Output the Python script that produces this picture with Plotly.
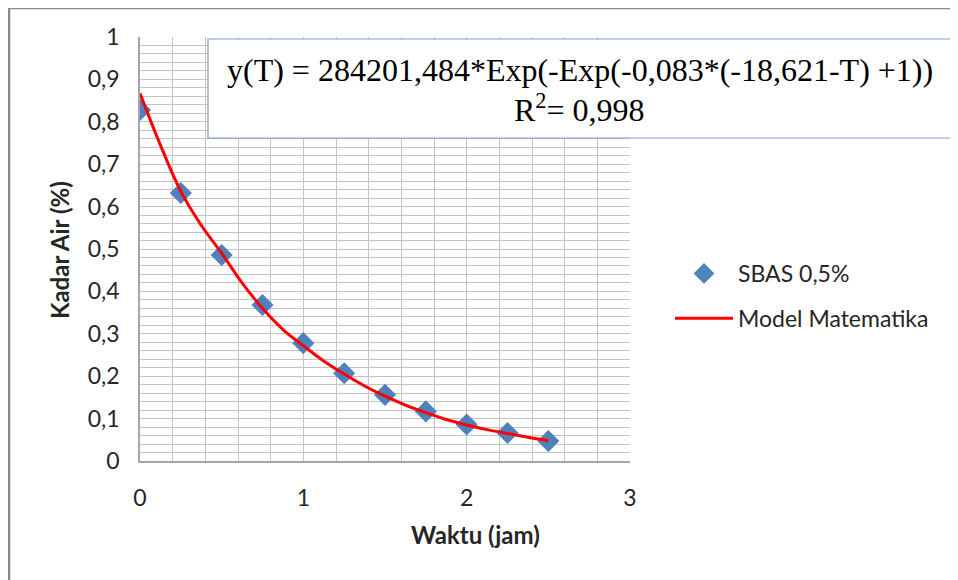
import plotly.graph_objects as go

# ---- data ----
waktu = [0, 0.25, 0.5, 0.75, 1.0, 1.25, 1.5, 1.75, 2.0, 2.25, 2.5]
kadar_air = [0.828, 0.632, 0.486, 0.368, 0.278, 0.207, 0.156, 0.117, 0.086, 0.066, 0.047]

model_x = [0, 0.125, 0.25, 0.375, 0.5, 0.625, 0.75, 0.875, 1.0, 1.125, 1.25,
           1.375, 1.5, 1.625, 1.75, 1.875, 2.0, 2.125, 2.25, 2.375, 2.5]
model_y = [0.867, 0.745, 0.636, 0.556, 0.49, 0.42, 0.36, 0.31, 0.272, 0.236, 0.205,
           0.177, 0.153, 0.132, 0.114, 0.098, 0.085, 0.074, 0.065, 0.056, 0.048]

y_ticks = [0, 0.1, 0.2, 0.3, 0.4, 0.5, 0.6, 0.7, 0.8, 0.9, 1]
y_labels = ["0", "0,1", "0,2", "0,3", "0,4", "0,5", "0,6", "0,7", "0,8", "0,9", "1"]
x_ticks = [0, 1, 2, 3]
x_labels = ["0", "1", "2", "3"]

series_names = ["SBAS 0,5%", "Model Matematika"]
eq_line1 = "y(T) = 284201,484*Exp(-Exp(-0,083*(-18,621-T) +1))"
eq_line2 = "R<sup>2</sup>= 0,998"
x_title = "Waktu (jam)"
y_title = "Kadar Air (%)"

# ---- layout geometry (page has an 8px body margin) ----
OFF = 8
W, H = 958 - OFF, 580 - OFF
L, R, T, B = 140, 630, 37, 461  # plot area in reference-screen pixels


def px_x(p):
    return (p - L) / (R - L)


def px_y(p):
    return (B - p) / (B - T)


FONT = "Lato, 'Open Sans', sans-serif"
SERIF = "'Liberation Serif', 'Times New Roman', serif"
GRID = "#c4c4c4"
TXT = "#262626"

fig = go.Figure()
fig.add_trace(go.Scatter(
    x=waktu, y=kadar_air, mode="markers", name=series_names[0], legendgroup="a",
    marker=dict(symbol="diamond", size=17, color="#4F81BD"),
))
fig.add_trace(go.Scatter(
    x=model_x, y=model_y, mode="lines", name=series_names[1], legendgroup="b",
    line=dict(color="#FF0000", width=3, shape="spline"),
))

fig.update_layout(
    width=W, height=H,
    margin=dict(l=L - OFF, r=W - (R - OFF), t=T - OFF, b=H - (B - OFF)),
    paper_bgcolor="white", plot_bgcolor="white",
    font=dict(family=FONT, color=TXT, size=23),
    showlegend=True,
    legend=dict(
        x=px_x(670), y=px_y(252), xanchor="left", yanchor="top",
        font=dict(size=23, family=FONT, color=TXT),
        bgcolor="rgba(0,0,0,0)", tracegroupgap=12, itemwidth=58,
    ),
    xaxis=dict(
        range=[0, 3], tickvals=x_ticks, ticktext=x_labels,
        showgrid=True, gridcolor=GRID, gridwidth=1,
        minor=dict(dtick=0.2, tick0=0, showgrid=True, gridcolor=GRID, gridwidth=1),
        showline=True, linecolor="#a6a6a6", linewidth=1.5,
        zeroline=False, ticks="", ticklabelstandoff=16,
        tickfont=dict(size=23, family=FONT, color=TXT),
        fixedrange=True,
    ),
    yaxis=dict(
        range=[0, 1], tickvals=y_ticks, ticktext=y_labels,
        showgrid=True, gridcolor=GRID, gridwidth=1,
        minor=dict(dtick=0.02, tick0=0, showgrid=True, gridcolor=GRID, gridwidth=1),
        showline=True, linecolor="#a6a6a6", linewidth=1.5,
        zeroline=False, ticks="", ticklabelstandoff=14,
        tickfont=dict(size=23, family=FONT, color=TXT),
        fixedrange=True,
    ),
)

# outer chart frame (Excel chart border)
fig.add_shape(type="rect", xref="paper", yref="paper",
              x0=px_x(9), x1=px_x(1000), y0=px_y(8), y1=px_y(640),
              line=dict(color="#8a8a8a", width=2.5), fillcolor="rgba(0,0,0,0)",
              layer="below")

# equation box
fig.add_shape(type="rect", xref="paper", yref="paper",
              x0=px_x(208), x1=px_x(954), y0=px_y(39), y1=px_y(138),
              line=dict(color="#7f9fcf", width=1.2), fillcolor="white",
              layer="above")
fig.add_annotation(xref="paper", yref="paper", x=px_x(580), y=px_y(70),
                   text=eq_line1, showarrow=False, xanchor="center", yanchor="middle",
                   font=dict(family=SERIF, size=32, color="black"))
fig.add_annotation(xref="paper", yref="paper", x=px_x(579), y=px_y(108),
                   text=eq_line2, showarrow=False, xanchor="center", yanchor="middle",
                   font=dict(family=SERIF, size=32, color="black"))

# axis titles
fig.add_annotation(xref="paper", yref="paper", x=px_x(475), y=px_y(534),
                   text="<b>" + x_title + "</b>", showarrow=False,
                   xanchor="center", yanchor="middle",
                   font=dict(family=FONT, size=24, color=TXT))
fig.add_annotation(xref="paper", yref="paper", x=px_x(59), y=px_y(250),
                   text="<b>" + y_title + "</b>", showarrow=False, textangle=-90,
                   xanchor="center", yanchor="middle",
                   font=dict(family=FONT, size=24, color=TXT))

fig.write_html("out.html")
